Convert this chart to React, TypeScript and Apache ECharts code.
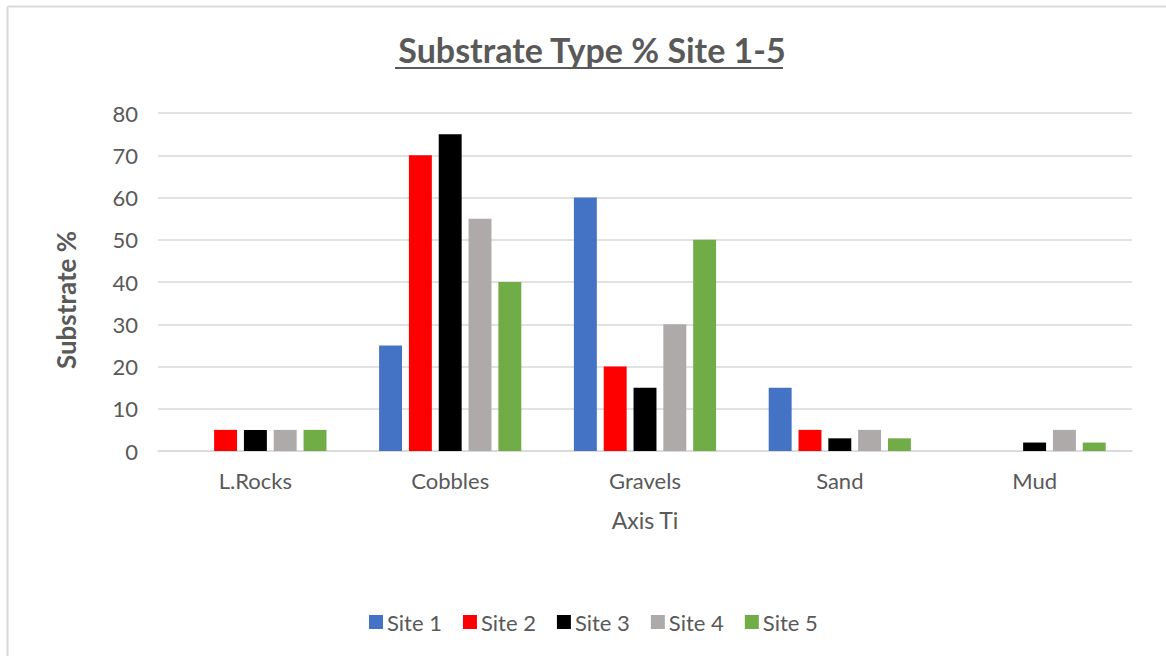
import React, { useEffect, useRef } from "react";
import * as echarts from "echarts";

const categories = ["L.Rocks", "Cobbles", "Gravels", "Sand", "Mud"];
const seriesNames = ["Site 1", "Site 2", "Site 3", "Site 4", "Site 5"];
const site1 = [0, 25, 60, 15, 0];
const site2 = [5, 70, 20, 5, 0];
const site3 = [5, 75, 15, 3, 2];
const site4 = [5, 55, 30, 5, 5];
const site5 = [5, 40, 50, 3, 2];
const colors = ["#4472C4", "#FF0000", "#000000", "#AEAAAA", "#70AD47"];

const FONT = "Lato, 'Open Sans', sans-serif";
const TXT = "#595959";

export default function App() {
  const ref = useRef<HTMLDivElement>(null);
  useEffect(() => {
    if (!ref.current) return;
    const chart = echarts.init(ref.current, null, { renderer: "svg" });
    const data = [site1, site2, site3, site4, site5];
    chart.setOption({
      animation: false,
      backgroundColor: "#ffffff",
      textStyle: { fontFamily: FONT },
      title: {
        text: "Substrate Type % Site 1-5",
        left: 587,
        top: 27,
        textAlign: "center",
        textStyle: { fontFamily: FONT, fontSize: 34, fontWeight: "bold", color: TXT },
      },
      graphic: [
        { type: "line", shape: { x1: 395, y1: 68, x2: 783, y2: 68 }, style: { stroke: TXT, lineWidth: 2 } },
        { type: "line", shape: { x1: 7.5, y1: 6.5, x2: 1166, y2: 6.5 }, style: { stroke: "#d9d9d9", lineWidth: 2 } },
        { type: "line", shape: { x1: 7.5, y1: 6.5, x2: 7.5, y2: 656 }, style: { stroke: "#d9d9d9", lineWidth: 2 } },
        {
          type: "text",
          x: 66,
          y: 300,
          rotation: Math.PI / 2,
          style: {
            text: "Substrate %",
            fontFamily: FONT,
            fontSize: 26,
            fontWeight: "bold",
            fill: TXT,
            textAlign: "center",
            textVerticalAlign: "middle",
          },
        },
      ],
      legend: {
        data: seriesNames,
        top: 606,
        left: 364,
        padding: [5, 5, 5, 5],
        itemWidth: 14,
        itemHeight: 14,
        itemGap: 21,
        icon: "rect",
        textStyle: { fontFamily: FONT, fontSize: 22, color: TXT, padding: [0, 0, 0, -1] },
      },
      grid: { left: 158, right: 34, top: 113, bottom: 205 },
      xAxis: {
        type: "category",
        data: categories,
        name: "Axis Ti",
        nameLocation: "middle",
        nameGap: 57,
        nameTextStyle: { fontFamily: FONT, fontSize: 23, color: TXT },
        axisLine: { lineStyle: { color: "#d9d9d9", width: 1.5 } },
        axisTick: { show: false },
        axisLabel: { fontFamily: FONT, fontSize: 22, color: TXT, margin: 18 },
      },
      yAxis: {
        type: "value",
        min: 0,
        max: 80,
        interval: 10,
        axisLine: { show: false },
        axisTick: { show: false },
        axisLabel: { fontFamily: FONT, fontSize: 22, color: TXT, margin: 20 },
        splitLine: { lineStyle: { color: "#d9d9d9", width: 1.5 } },
      },
      series: data.map((d, i) => ({
        name: seriesNames[i],
        type: "bar",
        data: d,
        barGap: "30%",
        barCategoryGap: "27%",
        itemStyle: { color: colors[i] },
      })),
    });
    return () => chart.dispose();
  }, []);
  return (
    <div
      ref={ref}
      style={{ position: "absolute", left: 0, top: 0, width: 1166, height: 656 }}
    />
  );
}
